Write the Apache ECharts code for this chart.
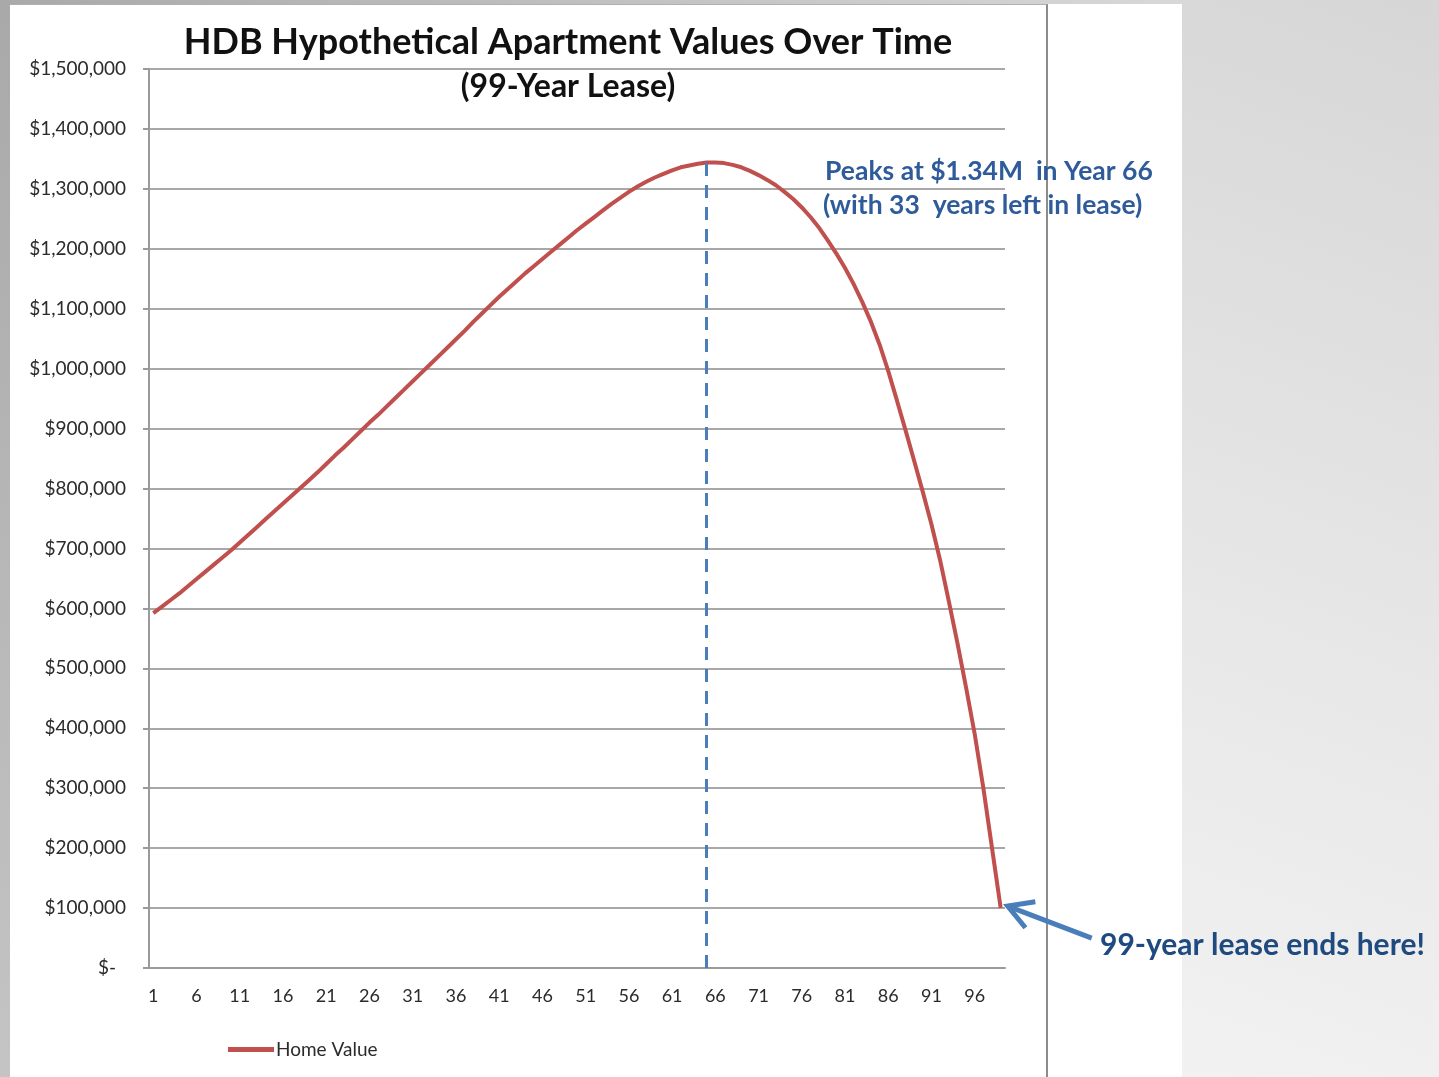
<!DOCTYPE html>
<html>
<head>
<meta charset="utf-8">
<title>HDB Hypothetical Apartment Values Over Time</title>
<script src="https://cdn.jsdelivr.net/npm/echarts@6/dist/echarts.min.js"></script>
<style>
	html, body { margin: 0; padding: 0; }
	body {
		width: 1439px; height: 1077px; overflow: hidden; position: relative;
		background: linear-gradient(200deg, #d6d6d6 0%, #e8e8e8 45%, #fbfbfb 100%);
	}
	#leftBand { position: absolute; left: 0; top: 0; width: 10px; height: 1077px;
		background: linear-gradient(180deg, #a9a9a9, #c4c4c4); }
	#topBand { position: absolute; left: 0; top: 0; width: 1182px; height: 4px;
		background: linear-gradient(90deg, #a9a9a9, #d8d8d8); }
	#panel { position: absolute; left: 10px; top: 4px; width: 1172px; height: 1073px; background: #fff; }
	#frame { position: absolute; left: 10px; top: 4px; width: 1036px; height: 1080px;
		border-top: 1px solid #b0b0b0; border-right: 2px solid #8c8c8c; }
	#main { position: absolute; left: 0; top: 0; width: 1439px; height: 1077px; }
</style>
</head>
<body>
<div id="leftBand"></div>
<div id="topBand"></div>
<div id="panel"></div>
<div id="frame"></div>
<div id="main"></div>
<script>
	// 年份 1..99
	var years = [];
	for( var i = 1; i <= 99; i++ ){
		years.push( String( i ) );
	}

	// Home Value
	var homeValue = [
		592000, 603000, 614000, 625000, 637000, 649000, 661000, 673000, 685000, 697000,
		710000, 723000, 736000, 749000, 762000, 775000, 788000, 801000, 814000, 827000,
		841000, 855000, 868000, 882000, 896000, 910000, 923000, 937000, 951000, 965000,
		979000, 993000, 1007000, 1021000, 1035000, 1049000, 1063000, 1078000, 1092000, 1106000,
		1120000, 1133000, 1146000, 1159000, 1171000, 1183000, 1195000, 1207000, 1219000, 1231000,
		1242000, 1253000, 1264000, 1275000, 1285000, 1295000, 1304000, 1312000, 1319000, 1325000,
		1331000, 1336000, 1339000, 1342000, 1344000, 1344000, 1343000, 1340000, 1336000, 1330000,
		1323000, 1315000, 1306000, 1295000, 1283000, 1269000, 1253000, 1235000, 1214000, 1192000,
		1168000, 1141000, 1111000, 1078000, 1040000, 996000, 947000, 897000, 846000, 794000,
		740000, 680000, 612000, 542000, 468000, 390000, 300000, 200000, 100000
	];

	var peakYear = '65';
	var peakValue = 1344000;
	var leaseEndYear = '99';
	var leaseEndValue = 100000;

	var textFont = 'Lato, "Open Sans", sans-serif';

	var chart = echarts.init( document.getElementById( 'main' ) );

	var moneyLabel = function(v){
		if( v === 0 ){
			return '{z|$-}';
		}
		return '$' + v.toLocaleString( 'en-US' );
	};

	chart.setOption( {
		animation: false,
		title: {
			text: 'HDB Hypothetical Apartment Values Over Time',
			subtext: '(99-Year Lease)',
			left: 563,
			top: 19,
			textAlign: 'center',
			itemGap: 11,
			textStyle: { fontFamily: textFont, fontWeight: 'bold', fontSize: 36, color: '#111' },
			subtextStyle: { fontFamily: textFont, fontWeight: 'bold', fontSize: 32, color: '#111' }
		},
		legend: {
			left: 228,
			top: 1040,
			padding: 0,
			icon: 'rect',
			itemWidth: 46,
			itemHeight: 5,
			itemGap: 10,
			textStyle: { fontFamily: textFont, fontSize: 19, color: '#2b2b2b', padding: [0, 0, 0, -3] },
			data: [ 'Home Value' ]
		},
		grid: { left: 149, top: 69, right: 434, bottom: 109, containLabel: false },
		xAxis: {
			type: 'category',
			data: years,
			boundaryGap: true,
			axisLine: { lineStyle: { color: '#9a9a9a', width: 2 } },
			axisTick: { interval: 4, length: 6, lineStyle: { color: '#9a9a9a', width: 2 } },
			axisLabel: { interval: 4, margin: 19, fontFamily: textFont, fontSize: 18, color: '#2b2b2b' },
			splitLine: { show: false }
		},
		yAxis: {
			type: 'value',
			min: 0,
			max: 1500000,
			interval: 100000,
			axisLine: { show: true, lineStyle: { color: '#9a9a9a', width: 2 } },
			axisTick: { show: true, length: 6, lineStyle: { color: '#9a9a9a', width: 2 } },
			axisLabel: {
				margin: 23,
				fontFamily: textFont,
				fontSize: 19,
				color: '#2b2b2b',
				formatter: moneyLabel,
				rich: { z: { fontFamily: textFont, fontSize: 19, color: '#2b2b2b', padding: [0, 10, 0, 0] } }
			},
			splitLine: { lineStyle: { color: '#a8a8a8', width: 2 } }
		},
		series: [
			{
				name: 'Home Value',
				type: 'line',
				data: homeValue,
				symbol: 'none',
				smooth: false,
				lineStyle: { color: '#c0504d', width: 4 },
				itemStyle: { color: '#c0504d' },
				markLine: {
					silent: true,
					symbol: [ 'none', 'none' ],
					label: { show: false },
					lineStyle: { color: '#4a7ebb', width: 3, type: [ 13, 9 ] },
					data: [
						[ { coord: [ peakYear, 0 ] }, { coord: [ peakYear, peakValue ] } ]
					]
				}
			}
		]
	} );

	/**
	 * 注释和箭头
	 */
	var end = chart.convertToPixel( { seriesIndex: 0 }, [ leaseEndYear, leaseEndValue ] );
	var tip = [ end[0] + 7, end[1] - 2 ];
	var tail = [ tip[0] + 84, tip[1] + 32 ];
	var ang = Math.atan2( tail[1] - tip[1], tail[0] - tip[0] );
	var armLen = 28;
	var arm1 = [ tip[0] + armLen * Math.cos( ang - 0.52 ), tip[1] + armLen * Math.sin( ang - 0.52 ) ];
	var arm2 = [ tip[0] + armLen * Math.cos( ang + 0.52 ), tip[1] + armLen * Math.sin( ang + 0.52 ) ];

	chart.setOption( {
		graphic: [
			{
				type: 'text', x: 825, y: 171,
				style: { text: 'Peaks at $1.34M  in Year 66', fill: '#2f5b9b', verticalAlign: 'middle',
					font: 'bold 26.5px ' + textFont }
			},
			{
				type: 'text', x: 823, y: 205,
				style: { text: '(with 33  years left in lease)', fill: '#2f5b9b', verticalAlign: 'middle',
					font: 'bold 26.5px ' + textFont }
			},
			{
				type: 'text', x: 1100, y: 945,
				style: { text: '99-year lease ends here!', fill: '#1f4a80', verticalAlign: 'middle',
					font: 'bold 30px ' + textFont }
			},
			{
				type: 'polyline',
				shape: { points: [ tip, tail ] },
				style: { stroke: '#4a7ebb', lineWidth: 5, fill: null }
			},
			{
				type: 'polyline',
				shape: { points: [ arm1, tip, arm2 ] },
				style: { stroke: '#4a7ebb', lineWidth: 5, fill: null, lineJoin: 'miter' }
			}
		]
	} );
</script>
</body>
</html>
